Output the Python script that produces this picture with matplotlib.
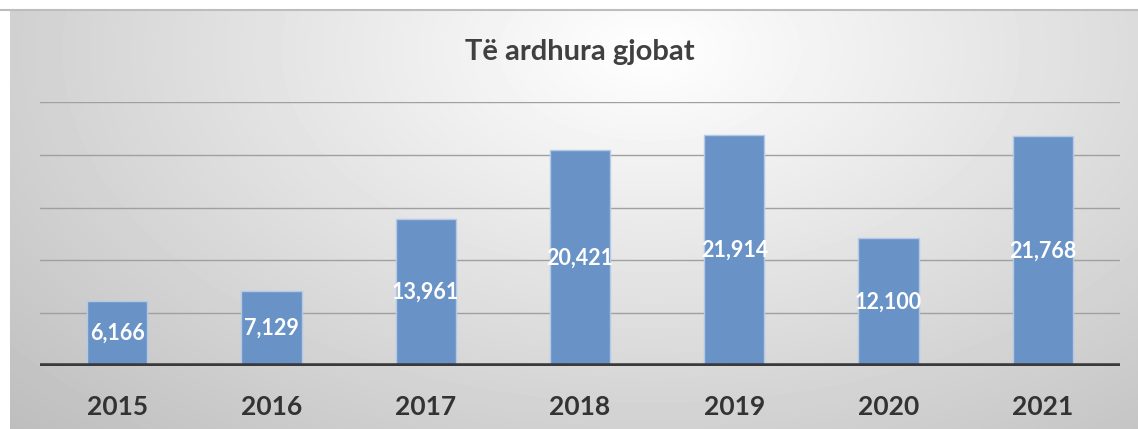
import numpy as np
import matplotlib
matplotlib.use('Agg')
import matplotlib.pyplot as plt

years = ['2015', '2016', '2017', '2018', '2019', '2020', '2021']
fines = [6166, 7129, 13961, 20421, 21914, 12100, 21768]
grid_ticks = [5000, 10000, 15000, 20000, 25000]

plt.rcParams['font.family'] = ['Lato', 'DejaVu Sans']

fig = plt.figure(figsize=(11.38, 4.29), dpi=100)
fig.patch.set_facecolor('white')

# radial gradient background
bg = fig.add_axes([10 / 1138, 0, 1128 / 1138, 419 / 429])
yy, xx = np.mgrid[0:419, 0:1128]
d = np.sqrt(((xx - 640) / 700.0) ** 2 + ((yy - 40) / 420.0) ** 2)
shade = 1.0 - 0.26 * np.clip(d, 0, 1.3) / 1.3
bg.imshow(shade, cmap='gray', vmin=0, vmax=1, aspect='auto', interpolation='bilinear')
bg.set_axis_off()
fig.add_artist(plt.Line2D([0, 1], [419 / 429, 419 / 429], color='#bdbdbd', lw=1.5))

ax = fig.add_axes([40 / 1138, 63 / 429, 1080 / 1138, 264 / 429])
ax.patch.set_alpha(0)
x = np.arange(len(years))
bars = ax.bar(x, fines, width=0.39, color='#6993c6', edgecolor='#b3c9e6', linewidth=1, zorder=3)
for gt in grid_ticks:
    ax.axhline(gt, color='#a0a0a0', lw=1, zorder=1)
ax.axhline(0, color='#3a3a3a', lw=4, zorder=4)
ax.set_xlim(-0.5, len(years) - 0.5)
ax.set_ylim(0, 25000)
ax.set_yticks([])
ax.set_xticks(x)
ax.set_xticklabels(years, fontsize=19, fontweight='bold', color='#333333')
ax.tick_params(axis='x', length=0, pad=21)
for s in ax.spines.values():
    s.set_visible(False)

for xi, v in zip(x, fines):
    ax.text(xi, v / 2, f'{v:,}', ha='center', va='center', color='white',
            fontsize=15.5, fontweight='bold', zorder=5)

fig.text(580 / 1138, 1 - 52 / 429, 'Të ardhura gjobat', ha='center', va='center',
         fontsize=21, fontweight='bold', color='#404040')

fig.savefig('out.png', dpi=100)
